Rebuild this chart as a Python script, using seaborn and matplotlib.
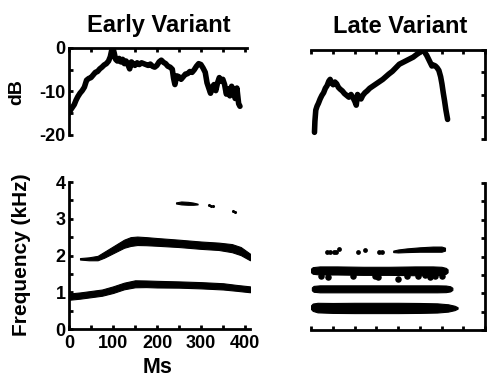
import matplotlib
matplotlib.use("Agg")
import matplotlib.pyplot as plt
from matplotlib.ticker import MultipleLocator, NullFormatter
import numpy as np
import pandas as pd
import seaborn as sns

# ---- amplitude envelopes (dB relative to peak) ----
early_ms = [0, 4, 8, 12, 16, 20, 25, 30, 35, 40, 45, 50, 55, 60, 65, 70, 75, 80,
            85, 90, 94, 97, 100, 103, 106, 110, 114, 118, 122, 126, 130, 134, 138,
            142, 146, 150, 155, 160, 165, 170, 175, 180, 185, 190, 195, 200, 205,
            210, 215, 220, 225, 230, 235, 238, 241, 245, 250, 255, 260, 265, 270,
            275, 280, 285, 290, 295, 300, 305, 310, 314, 318, 322, 326, 330, 334,
            338, 342, 346, 350, 354, 358, 362, 366, 370, 374, 378, 382, 386, 389]
early_db = [-15.0, -14.2, -13.6, -13.0, -12.0, -11.2, -10.4, -9.8, -9.0, -7.4, -7.0,
            -6.8, -6.2, -5.6, -5.4, -4.8, -4.4, -3.9, -3.6, -3.0, -2.0, -0.6, 0.0,
            -1.2, -2.6, -3.0, -2.4, -3.2, -2.6, -3.6, -3.0, -3.8, -4.8, -3.2, -3.6,
            -4.0, -3.4, -3.8, -3.4, -3.6, -3.8, -4.0, -3.7, -4.2, -4.4, -4.0, -3.2,
            -2.8, -3.3, -3.6, -4.2, -4.4, -4.9, -7.0, -8.4, -6.4, -6.6, -7.2, -6.6,
            -6.0, -5.9, -5.4, -5.6, -5.0, -4.2, -3.6, -3.8, -4.6, -5.6, -8.0, -9.2,
            -10.4, -9.0, -8.4, -9.8, -8.0, -6.8, -7.6, -7.2, -8.4, -10.6, -9.4,
            -11.0, -8.8, -9.8, -11.6, -9.2, -12.8, -13.4]

late_ms = [8, 9, 11, 14, 17, 21, 25, 29, 33, 37, 41, 44, 47, 51, 55, 59, 63, 67,
           72, 77, 82, 87, 92, 97, 101, 104, 107, 111, 115, 119, 124, 129, 135,
           141, 147, 153, 159, 165, 172, 179, 187, 195, 203, 211, 219, 227, 235,
           243, 249, 254, 258, 262, 266, 270, 274, 278, 282, 286, 290, 294, 298,
           301, 304, 307, 310, 314]
late_db = [-18.5, -16.0, -13.5, -12.6, -12.0, -11.0, -10.2, -9.6, -8.6, -8.0, -7.0,
           -6.6, -7.4, -7.8, -7.2, -7.6, -8.4, -8.8, -9.2, -9.8, -10.2, -10.6,
           -10.0, -10.8, -11.6, -12.4, -10.0, -10.6, -11.0, -10.2, -9.6, -9.2,
           -8.6, -8.2, -7.8, -7.4, -7.0, -6.6, -6.0, -5.4, -4.8, -4.0, -3.2, -2.8,
           -2.4, -2.0, -1.6, -1.0, -0.6, -0.2, 0.0, -0.6, -1.2, -2.0, -2.8, -3.6,
           -3.4, -3.6, -4.0, -4.6, -6.0, -7.6, -9.6, -11.4, -13.4, -15.6]

# ---- spectrogram bands: centre frequency (kHz) and band thickness (kHz) ----
e1_ms = [0, 25, 50, 75, 100, 125, 150, 175, 200, 250, 300, 350, 380, 411]
e1_khz = [0.88, 0.91, 0.95, 0.99, 1.07, 1.17, 1.23, 1.23, 1.22, 1.21, 1.19, 1.16, 1.12, 1.08]
e1_bw = [0.17, 0.17, 0.17, 0.17, 0.18, 0.18, 0.19, 0.18, 0.18, 0.17, 0.17, 0.17, 0.16, 0.16]

e2_ms = [25, 45, 65, 80, 95, 110, 125, 140, 155, 175, 200, 250, 300, 340, 370, 390, 411]
e2_khz = [1.91, 1.91, 1.93, 2.02, 2.12, 2.22, 2.32, 2.38, 2.40, 2.39, 2.37, 2.33, 2.28,
          2.25, 2.20, 2.12, 1.96]
e2_bw = [0.04, 0.08, 0.12, 0.16, 0.18, 0.20, 0.22, 0.24, 0.23, 0.22, 0.21, 0.20, 0.20,
         0.20, 0.22, 0.22, 0.18]

e3_ms = [243, 255, 270, 282, 292]
e3_khz = [3.43, 3.43, 3.42, 3.41, 3.40]
e3_bw = [0.03, 0.08, 0.08, 0.06, 0.02]

e3_dots_ms = [318, 323, 328, 372, 378]
e3_dots_khz = [3.37, 3.36, 3.35, 3.22, 3.18]

l1_ms = [0, 4, 15, 50, 100, 150, 200, 250, 290, 315, 330, 337]
l1_khz = [0.62, 0.62, 0.61, 0.60, 0.60, 0.60, 0.60, 0.60, 0.60, 0.60, 0.60, 0.60]
l1_bw = [0.10, 0.20, 0.26, 0.27, 0.28, 0.28, 0.28, 0.27, 0.25, 0.20, 0.12, 0.04]

l2_ms = [2, 6, 20, 60, 120, 180, 240, 290, 310, 320, 325]
l2_khz = [1.12, 1.12, 1.12, 1.12, 1.12, 1.12, 1.12, 1.12, 1.12, 1.12, 1.12]
l2_bw = [0.08, 0.16, 0.19, 0.19, 0.19, 0.19, 0.19, 0.19, 0.18, 0.14, 0.06]

l3_ms = [0, 4, 20, 60, 120, 180, 240, 280, 300, 310, 314]
l3_khz = [1.62, 1.62, 1.62, 1.62, 1.61, 1.61, 1.61, 1.61, 1.61, 1.61, 1.61]
l3_bw = [0.10, 0.18, 0.22, 0.22, 0.22, 0.22, 0.24, 0.24, 0.22, 0.16, 0.08]

l4_ms = [189, 200, 220, 250, 280, 300, 308]
l4_khz = [2.14, 2.15, 2.17, 2.19, 2.20, 2.20, 2.20]
l4_bw = [0.04, 0.08, 0.10, 0.12, 0.14, 0.14, 0.08]

# isolated energy patches near the third and fourth bands
speck4_ms = [36, 44, 52, 58, 65, 108, 124, 157, 163]
speck4_khz = [2.12, 2.13, 2.12, 2.11, 2.21, 2.13, 2.17, 2.13, 2.13]
speck3_ms = [24, 40, 97, 147, 155, 201, 220, 247, 262, 274, 285, 300]
speck3_khz = [1.46, 1.44, 1.46, 1.47, 1.44, 1.40, 1.46, 1.46, 1.50, 1.43, 1.47, 1.46]

# ---- styling ----
sns.set_theme(style="white")
plt.rcParams["font.family"] = ["Liberation Sans", "DejaVu Sans"]
plt.rcParams["font.weight"] = "bold"

fig = plt.figure(figsize=(4.88, 3.77), dpi=100)


def box(left, top, right, bottom):
    return [left / 488, 1 - bottom / 377, (right - left) / 488, (bottom - top) / 377]


ax_edb = fig.add_axes(box(69, 48, 247, 135))
ax_ldb = fig.add_axes(box(311, 50, 485, 139))
ax_esp = fig.add_axes(box(69, 182, 250, 329))
ax_lsp = fig.add_axes(box(311, 183, 485, 330))


def frame(ax, sides):
    for s in ["left", "right", "top", "bottom"]:
        ax.spines[s].set_visible(s in sides)
        ax.spines[s].set_color("black")
        ax.spines[s].set_linewidth(2.0)
    ax.set_facecolor("white")
    ax.grid(False)
    ax.tick_params(which="both", direction="in", length=3, width=2.0,
                   color="black", labelsize=13, labelcolor="black", pad=2.5,
                   left="left" in sides, right="right" in sides,
                   top="top" in sides, bottom="bottom" in sides,
                   labelleft="left" in sides, labelbottom="bottom" in sides,
                   labelright=False, labeltop=False)


# amplitude, early
sns.lineplot(x=early_ms, y=early_db, ax=ax_edb, color="black", linewidth=4.0,
             estimator=None, sort=False)
ax_edb.set_xlim(0, 405)
ax_edb.set_ylim(-20, 0)
ax_edb.xaxis.set_major_locator(MultipleLocator(50))
ax_edb.xaxis.set_major_formatter(NullFormatter())
ax_edb.set_yticks([0, -10, -20], ["0", "-10", "-20"], fontweight="bold")
ax_edb.yaxis.set_minor_locator(MultipleLocator(5))
frame(ax_edb, ["left", "top"])
ax_edb.set_xlabel("")
ax_edb.set_ylabel("")

# amplitude, late
sns.lineplot(x=late_ms, y=late_db, ax=ax_ldb, color="black", linewidth=4.0,
             estimator=None, sort=False)
ax_ldb.set_xlim(0, 400)
ax_ldb.set_ylim(-20, 0)
ax_ldb.xaxis.set_major_locator(MultipleLocator(50))
ax_ldb.yaxis.set_major_locator(MultipleLocator(5))
ax_ldb.xaxis.set_major_formatter(NullFormatter())
ax_ldb.yaxis.set_major_formatter(NullFormatter())
frame(ax_ldb, ["right", "top"])
ax_ldb.set_xlabel("")
ax_ldb.set_ylabel("")


def band(ax, ms, khz, bw):
    c = np.asarray(khz)
    h = np.asarray(bw) / 2
    ax.fill_between(ms, c - h, c + h, color="black", linewidth=0.8,
                    edgecolor="black")


# spectrogram, early
band(ax_esp, e1_ms, e1_khz, e1_bw)
band(ax_esp, e2_ms, e2_khz, e2_bw)
band(ax_esp, e3_ms, e3_khz, e3_bw)
sns.scatterplot(x=e3_dots_ms, y=e3_dots_khz, ax=ax_esp, color="black", s=5,
                linewidth=0)
ax_esp.set_xlim(0, 411)
ax_esp.set_ylim(0, 4)
ax_esp.set_xticks([0, 100, 200, 300, 400], ["0", "100", "200", "300", "400"],
                  fontweight="bold")
ax_esp.set_yticks([0, 1, 2, 3, 4], ["0", "1", "2", "3", "4"], fontweight="bold")
ax_esp.xaxis.set_minor_locator(MultipleLocator(50))
ax_esp.yaxis.set_minor_locator(MultipleLocator(0.5))
frame(ax_esp, ["left", "bottom"])
ax_esp.tick_params(axis="x", which="both", pad=4)
ax_esp.set_xlabel("")
ax_esp.set_ylabel("")

# spectrogram, late
band(ax_lsp, l1_ms, l1_khz, l1_bw)
band(ax_lsp, l2_ms, l2_khz, l2_bw)
band(ax_lsp, l3_ms, l3_khz, l3_bw)
band(ax_lsp, l4_ms, l4_khz, l4_bw)
sns.scatterplot(x=speck4_ms, y=speck4_khz, ax=ax_lsp, color="black", s=12,
                linewidth=0)
sns.scatterplot(x=speck3_ms, y=speck3_khz, ax=ax_lsp, color="black", s=22,
                linewidth=0)
ax_lsp.set_xlim(0, 400)
ax_lsp.set_ylim(0, 4)
ax_lsp.xaxis.set_major_locator(MultipleLocator(50))
ax_lsp.yaxis.set_major_locator(MultipleLocator(0.5))
ax_lsp.xaxis.set_major_formatter(NullFormatter())
ax_lsp.yaxis.set_major_formatter(NullFormatter())
frame(ax_lsp, ["right", "bottom"])
ax_lsp.set_xlabel("")
ax_lsp.set_ylabel("")

# titles and axis labels
fig.text(159 / 488, 1 - 32 / 377, "Early Variant", ha="center", va="baseline",
         fontsize=17, fontweight="bold", color="black")
fig.text(400 / 488, 1 - 33 / 377, "Late Variant", ha="center", va="baseline",
         fontsize=17, fontweight="bold", color="black")
fig.text(17 / 488, 1 - 92 / 377, "dB", ha="center", va="center", rotation=90,
         fontsize=14, fontweight="bold", color="black")
fig.text(21.5 / 488, 1 - 255 / 377, "Frequency (kHz)", ha="center", va="center",
         rotation=90, fontsize=15, fontweight="bold", color="black")
fig.text(158 / 488, 1 - 373 / 377, "Ms", ha="center", va="baseline",
         fontsize=15.5, fontweight="bold", color="black")

fig.savefig("out.png", dpi=100, facecolor="white")
